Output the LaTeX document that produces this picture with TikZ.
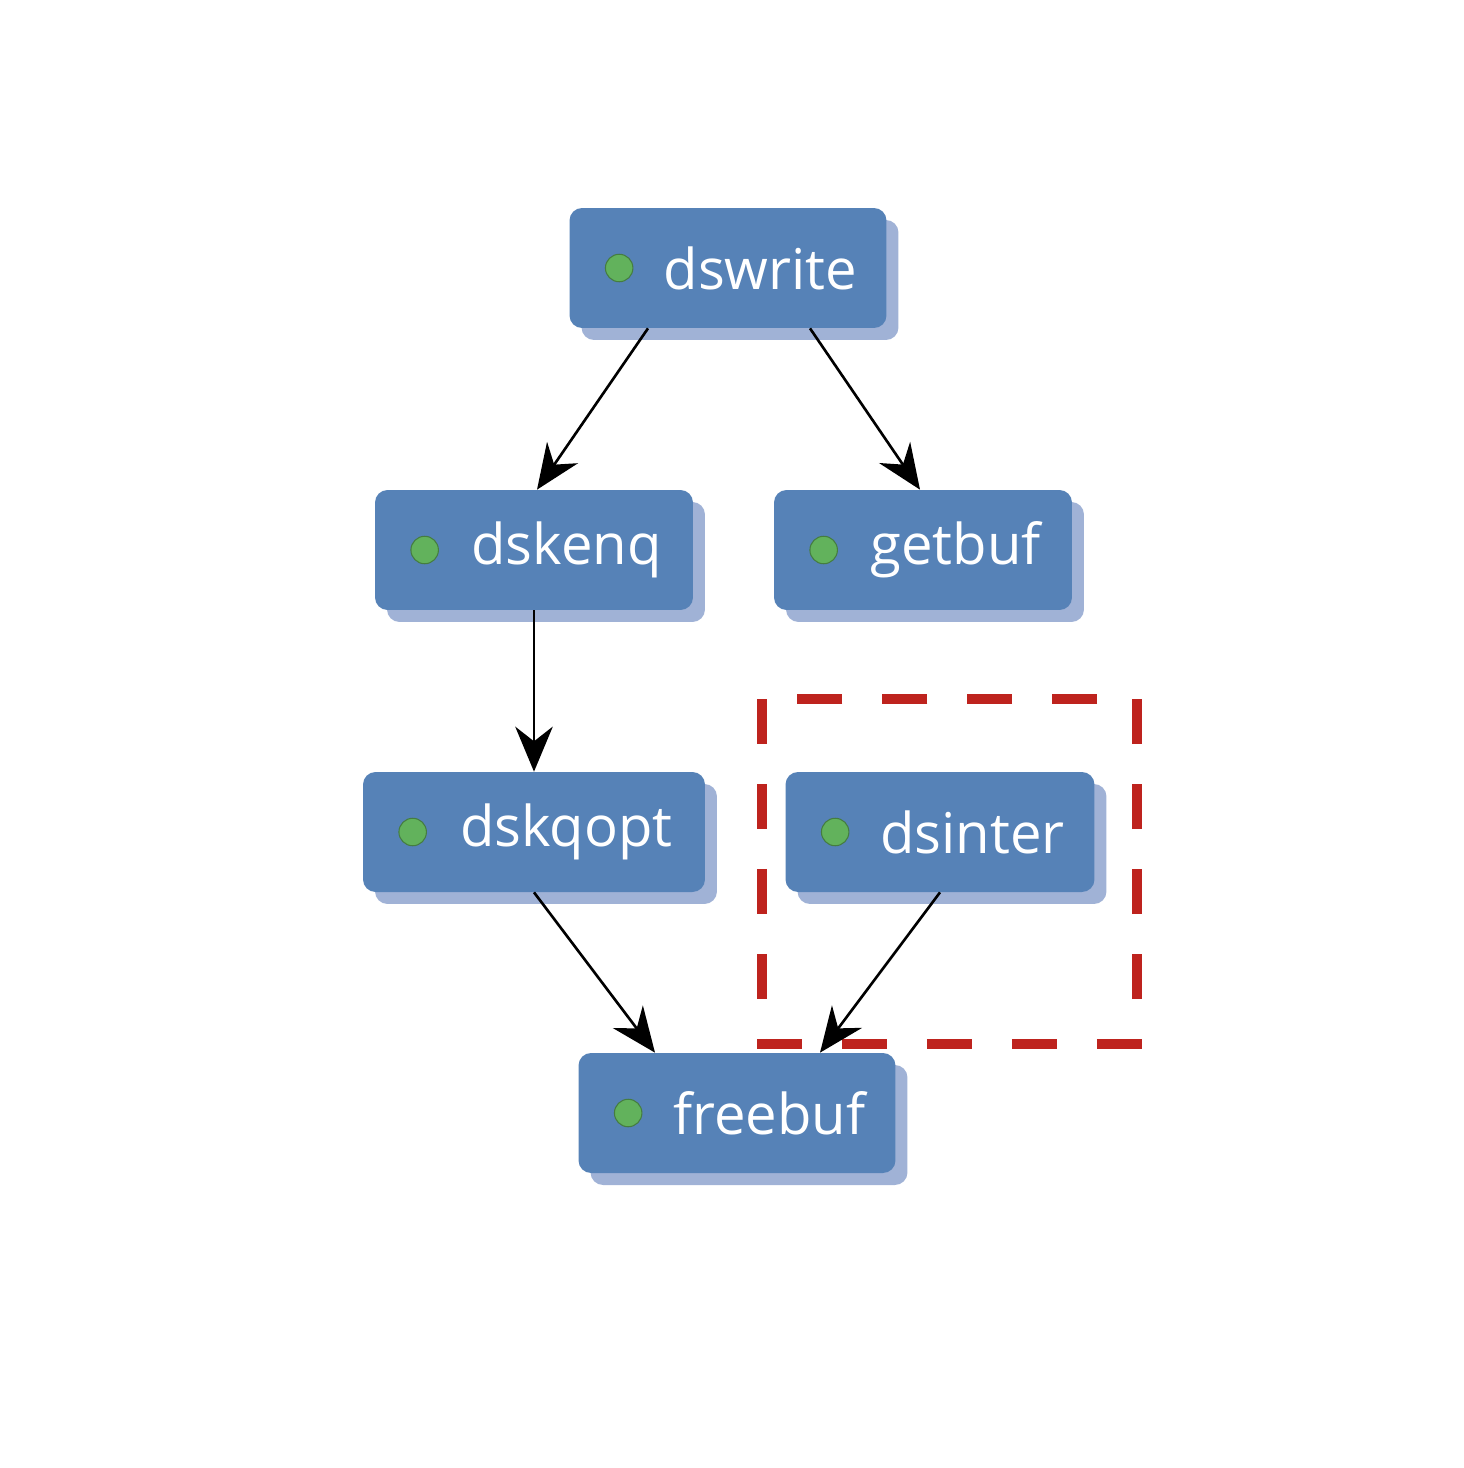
\documentclass[tikz,border=0pt]{standalone}
\usepackage{fontspec}
\setmainfont{Open Sans}
\usetikzlibrary{arrows.meta,shadows}
\definecolor{boxblue}{RGB}{86,130,183}
\definecolor{shadeblue}{RGB}{160,178,214}
\definecolor{dotgreen}{RGB}{98,178,92}
\definecolor{frred}{RGB}{190,35,30}
\tikzset{
  box/.style={draw=none,fill=boxblue,rounded corners=0.25cm,minimum height=2.4cm,
    text=white,font=\fontsize{32}{38}\selectfont,
    drop shadow={shadow xshift=0.24cm,shadow yshift=-0.24cm,fill=shadeblue,opacity=1}},
  dot/.style={circle,fill=dotgreen,draw=dotgreen!70!black,line width=0.6pt,minimum size=0.55cm,inner sep=0pt},
  edge/.style={-{Stealth[length=0.9cm,width=0.75cm]},line width=1.5pt}
}
\begin{document}
\begin{tikzpicture}[x=0.02cm,y=-0.02cm]
\useasboundingbox (0,0) rectangle (1464,1468);
% boxes
\node[box,minimum width=6.34cm] (dswrite) at (728,268) {\hspace*{1.3cm}dswrite};
\node[box,minimum width=6.36cm] (dskenq) at (534,550) {\hspace*{1.3cm}dskenq};
\node[box,minimum width=5.96cm] (getbuf) at (923,550) {\hspace*{1.3cm}getbuf};
\node[box,minimum width=6.84cm] (dskqopt) at (534,832) {\hspace*{1.3cm}dskqopt};
\node[box,minimum width=6.18cm] (dsinter) at (940,832) {\hspace*{1.3cm}dsinter};
\node[box,minimum width=6.34cm] (freebuf) at (737,1113) {\hspace*{1.3cm}freebuf};
% green dots
\foreach \n in {dswrite,dskenq,getbuf,dskqopt,dsinter,freebuf}
  \node[dot] (\n-dot) at ([xshift=1.0cm]\n.west) {};
% dashed frame
\draw[frred,line width=0.2cm,dash pattern=on 0.9cm off 0.8cm] (762,699) rectangle (1137,1044);
% edges
\draw[edge] (dswrite.south -| 648,0) -- (dskenq.north -| 537,0);
\draw[edge] (dswrite.south -| 810,0) -- (getbuf.north -| 920,0);
\draw[edge] (dskenq.south) -- (dskqopt.north);
\draw[edge] (dskqopt.south) -- (freebuf.north -| 655,0);
\draw[edge] (dsinter.south) -- (freebuf.north -| 820,0);
\end{tikzpicture}
\end{document}
